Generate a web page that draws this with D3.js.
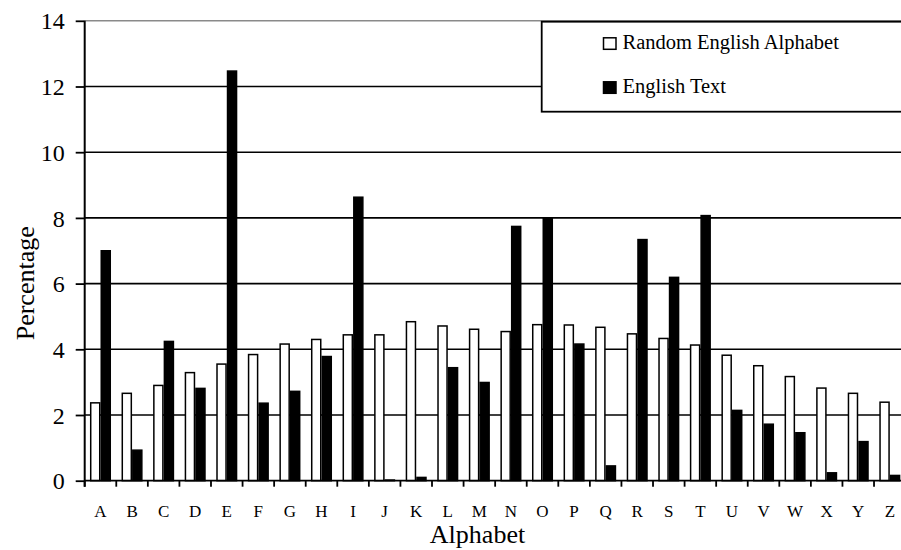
<!DOCTYPE html>
<html>
<head>
<meta charset="utf-8">
<script src="https://cdn.jsdelivr.net/npm/d3@7"></script>
<style>
  body { margin: 0; background: #fff; }
  svg { display: block; font-family: "Liberation Serif", "Times New Roman", serif; }
</style>
</head>
<body>
<div id="chart"></div>
<script>
const letters = "ABCDEFGHIJKLMNOPQRSTUVWXYZ".split("");
const randomAlphabet = [2.37, 2.66, 2.90, 3.29, 3.55, 3.84, 4.16, 4.30, 4.44, 4.44, 4.84, 4.71, 4.61,
                        4.54, 4.75, 4.74, 4.67, 4.47, 4.33, 4.13, 3.82, 3.50, 3.17, 2.82, 2.66, 2.39];
const englishText = [7.00, 0.93, 4.24, 2.81, 12.47, 2.36, 2.72, 3.78, 8.63, 0.02, 0.10, 3.44, 2.99,
                     7.74, 8.00, 4.16, 0.45, 7.34, 6.19, 8.07, 2.14, 1.72, 1.46, 0.24, 1.19, 0.16];
const seriesNames = ["Random English Alphabet", "English Text"];
const yTicks = [0, 2, 4, 6, 8, 10, 12, 14];

const width = 901, height = 550;
const plotLeft = 84.7, plotRight = 905.6, plotTop = 20.8, plotBottom = 480.7;

const svg = d3.select("#chart").append("svg")
    .attr("width", width)
    .attr("height", height);

svg.append("rect").attr("width", width).attr("height", height).attr("fill", "#fff");

const x = d3.scaleBand().domain(letters).range([plotLeft, plotRight]).padding(0);
const bw = x.bandwidth();
const x1 = d3.scaleBand().domain([0, 1]).range([bw / 6, bw * 5 / 6]).padding(0);
const y = d3.scaleLinear().domain([0, 14]).range([plotBottom, plotTop]);

// gridlines
svg.append("g")
    .selectAll("line")
    .data(yTicks.filter(d => d > 0))
    .join("line")
    .attr("x1", plotLeft)
    .attr("x2", width)
    .attr("y1", d => y(d))
    .attr("y2", d => y(d))
    .attr("stroke", d => d === 14 ? "#8a8a8a" : "#000")
    .attr("stroke-width", 1.6);

// bars
const rows = letters.map((c, i) => ({ c, vals: [randomAlphabet[i], englishText[i]] }));

const groups = svg.append("g")
    .selectAll("g")
    .data(rows)
    .join("g")
    .attr("transform", d => `translate(${x(d.c)},0)`);

groups.selectAll("rect")
    .data(d => d.vals.map((v, k) => ({ v, k })))
    .join("rect")
    .attr("x", d => x1(d.k) + 0.75)
    .attr("width", x1.bandwidth() - 1.5)
    .attr("y", d => y(d.v))
    .attr("height", d => y(0) - y(d.v))
    .attr("fill", d => d.k === 0 ? "#fff" : "#000")
    .attr("stroke", "#000")
    .attr("stroke-width", 1.5);

// legend
const legend = svg.append("g");
legend.append("rect")
    .attr("x", 541.7)
    .attr("y", 21.7)
    .attr("width", 400)
    .attr("height", 90)
    .attr("fill", "#fff")
    .attr("stroke", "#000")
    .attr("stroke-width", 1.8);

seriesNames.forEach((name, k) => {
    const base = 49.3 + k * 44;
    legend.append("rect")
        .attr("x", 603.5)
        .attr("y", base - 11.5)
        .attr("width", 12.5)
        .attr("height", 11.5)
        .attr("fill", k === 0 ? "#fff" : "#000")
        .attr("stroke", "#000")
        .attr("stroke-width", 1.5);
    legend.append("text")
        .attr("x", 622.5)
        .attr("y", base)
        .attr("font-size", 20.5)
        .attr("fill", "#000")
        .text(name);
});

// y axis
const yAxis = svg.append("g")
    .attr("transform", `translate(${plotLeft},0)`)
    .call(d3.axisLeft(y).tickValues(yTicks).tickSize(9).tickPadding(12).tickSizeOuter(0));
yAxis.select(".domain").attr("stroke", "#000").attr("stroke-width", 2)
    .attr("d", `M0,${plotTop}V${plotBottom + 6}`);
yAxis.selectAll(".tick line").attr("stroke", "#000").attr("stroke-width", 1.8);
yAxis.selectAll(".tick text")
    .attr("font-family", "Liberation Serif")
    .attr("font-size", 24)
    .attr("fill", "#000")
    .attr("x", -20)
    .attr("dy", "0.34em");

// x axis
const xAxis = svg.append("g")
    .attr("transform", `translate(0,${plotBottom})`)
    .call(d3.axisBottom(x).tickSize(0).tickPadding(24).tickSizeOuter(0));
xAxis.select(".domain").attr("stroke", "#000").attr("stroke-width", 1.8)
    .attr("d", `M${plotLeft},0H${width}`);
xAxis.selectAll(".tick text")
    .attr("font-family", "Liberation Serif")
    .attr("font-size", 17)
    .attr("fill", "#000")
    .attr("dy", "0")
    .attr("y", 36);

xAxis.selectAll(".bound")
    .data(letters)
    .join("line")
    .attr("class", "bound")
    .attr("x1", d => x(d))
    .attr("x2", d => x(d))
    .attr("y1", 0)
    .attr("y2", 6)
    .attr("stroke", "#000")
    .attr("stroke-width", 1.8);

// axis titles
svg.append("text")
    .attr("x", 477.5)
    .attr("y", 543.3)
    .attr("text-anchor", "middle")
    .attr("font-size", 26)
    .attr("fill", "#000")
    .text("Alphabet");

svg.append("text")
    .attr("transform", "translate(34,283.3) rotate(-90)")
    .attr("text-anchor", "middle")
    .attr("font-size", 26)
    .attr("fill", "#000")
    .text("Percentage");
</script>
</body>
</html>
